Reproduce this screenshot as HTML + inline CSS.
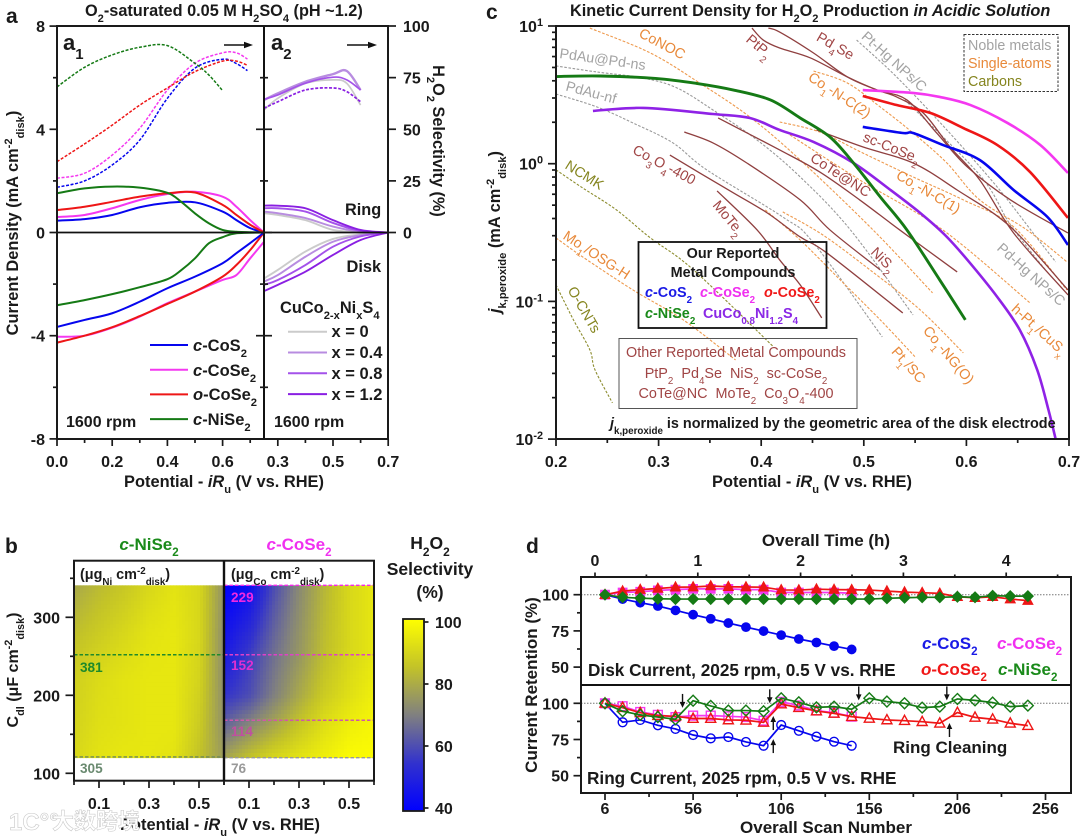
<!DOCTYPE html>
<html lang="en">
<head>
<meta charset="utf-8">
<title>H2O2 electrocatalyst figure</title>
<style>
html,body{margin:0;padding:0;background:#fff;width:1080px;height:840px;overflow:hidden}
svg{display:block;filter:blur(.35px)}
text{font-family:"Liberation Sans","Noto Sans CJK SC",sans-serif;font-weight:700;fill:#1a1a1a}
.i{font-style:italic}
.s{font-size:68%;baseline-shift:sub}
.u{font-size:68%;baseline-shift:super}
.lb{font-size:14.3px;font-weight:400}
.br{fill:#a04545}.or{fill:#e8893a}.gy{fill:#a3a3a3}.ol{fill:#85851f}
</style>
</head>
<body>
<svg id="fig" xmlns="http://www.w3.org/2000/svg" width="1080" height="840" viewBox="0 0 1080 840">
<defs>
<linearGradient id="cbar" x1="0" y1="1" x2="0" y2="0"></linearGradient>
</defs>
<g id="marks"></g>

<!-- panel a text -->
<text x="6" y="23" font-size="21">a</text>
<text x="85" y="16" font-size="16.3">O<tspan class="s">2</tspan>-saturated 0.05 M H<tspan class="s">2</tspan>SO<tspan class="s">4</tspan> (pH ~1.2)</text>
<text x="63" y="50" font-size="22">a<tspan class="s">1</tspan></text>
<text x="271" y="50" font-size="22">a<tspan class="s">2</tspan></text>
<text transform="translate(18,223) rotate(-90)" text-anchor="middle" font-size="16.4">Current Density (mA cm<tspan class="u">-2</tspan><tspan class="s">disk</tspan>)</text>
<text transform="translate(433,141) rotate(90)" text-anchor="middle" font-size="16.3">H<tspan class="s">2</tspan>O<tspan class="s">2</tspan> Selectivity (%)</text>
<text x="224" y="487" text-anchor="middle" font-size="16.4">Potential - <tspan class="i">iR</tspan><tspan class="s">u</tspan> (V vs. RHE)</text>
<text x="193" y="351" font-size="16.5"><tspan class="i">c</tspan>-CoS<tspan class="s">2</tspan></text>
<text x="193" y="376" font-size="16.5"><tspan class="i">c</tspan>-CoSe<tspan class="s">2</tspan></text>
<text x="193" y="400" font-size="16.5"><tspan class="i">o</tspan>-CoSe<tspan class="s">2</tspan></text>
<text x="193" y="425" font-size="16.5"><tspan class="i">c</tspan>-NiSe<tspan class="s">2</tspan></text>
<text x="66" y="427" font-size="16">1600 rpm</text>
<text x="274" y="427" font-size="16">1600 rpm</text>
<text x="345" y="215" font-size="16.3">Ring</text>
<text x="346.5" y="272" font-size="16.4">Disk</text>
<text x="280" y="313" font-size="16.4">CuCo<tspan class="s">2-x</tspan>Ni<tspan class="s">x</tspan>S<tspan class="s">4</tspan></text>
<text x="331.5" y="337" font-size="16.5">x = 0</text>
<text x="331.5" y="358" font-size="16.5">x = 0.4</text>
<text x="331.5" y="379" font-size="16.5">x = 0.8</text>
<text x="331.5" y="400" font-size="16.5">x = 1.2</text>

<!-- panel c text -->
<text x="486" y="19" font-size="21">c</text>
<text x="570" y="16" font-size="16.3">Kinetic Current Density for H<tspan class="s">2</tspan>O<tspan class="s">2</tspan> Production <tspan class="i">in Acidic Solution</tspan></text>
<text transform="translate(500,232) rotate(-90)" text-anchor="middle" font-size="16.4"><tspan class="i">j</tspan><tspan class="s">k,peroxide</tspan> (mA cm<tspan class="u">-2</tspan><tspan class="s">disk</tspan>)</text>
<text x="812" y="487" text-anchor="middle" font-size="16.4">Potential - <tspan class="i">iR</tspan><tspan class="s">u</tspan> (V vs. RHE)</text>
<g>
<text class="lb or" transform="translate(660,48) rotate(28)" text-anchor="middle">CoNOC</text>
<text class="lb br" transform="translate(756,50) rotate(40)" text-anchor="middle">PtP<tspan class="s">2</tspan></text>
<text class="lb br" transform="translate(833,50) rotate(30)" text-anchor="middle">Pd<tspan class="s">4</tspan>Se</text>
<text class="lb gy" transform="translate(602,64) rotate(8)" text-anchor="middle">PdAu@Pd-ns</text>
<text class="lb gy" transform="translate(590,97) rotate(15)" text-anchor="middle">PdAu-nf</text>
<text class="lb ol" transform="translate(582,179) rotate(32)" text-anchor="middle">NCMK</text>
<text class="lb br" transform="translate(662,169) rotate(28)" text-anchor="middle">Co<tspan class="s">3</tspan>O<tspan class="s">4</tspan>-400</text>
<text class="lb br" transform="translate(725,221) rotate(50)" text-anchor="middle">MoTe<tspan class="s">2</tspan></text>
<text class="lb gy" transform="translate(891,65) rotate(42)" text-anchor="middle">Pt-Hg NPs/C</text>
<text class="lb or" transform="translate(837,99) rotate(33)" text-anchor="middle">Co<tspan class="s">1</tspan>-N-C(2)</text>
<text class="lb br" transform="translate(890,152) rotate(22)" text-anchor="middle">sc-CoSe<tspan class="s">2</tspan></text>
<text class="lb br" transform="translate(838,179) rotate(33)" text-anchor="middle">CoTe@NC</text>
<text class="lb or" transform="translate(926,196) rotate(30)" text-anchor="middle">Co<tspan class="s">1</tspan>-N-C(1)</text>
<text class="lb br" transform="translate(880,263) rotate(45)" text-anchor="middle">NiS<tspan class="s">2</tspan></text>
<text class="lb gy" transform="translate(1028,278) rotate(42)" text-anchor="middle">Pd-Hg NPs/C</text>
<text class="lb or" transform="translate(1036,333) rotate(42)" text-anchor="middle">h-Pt<tspan class="s">1</tspan>/CuS<tspan class="s">x</tspan></text>
<text class="lb or" transform="translate(945,358) rotate(50)" text-anchor="middle">Co<tspan class="s">1</tspan>-NG(O)</text>
<text class="lb or" transform="translate(905,368) rotate(48)" text-anchor="middle">Pt<tspan class="s">1</tspan>/SC</text>
<text class="lb or" transform="translate(594,259) rotate(33)" text-anchor="middle">Mo<tspan class="s">1</tspan>/OSG-H</text>
<text class="lb ol" transform="translate(580,312) rotate(60)" text-anchor="middle">O-CNTs</text>
</g>
<rect x="964" y="34.5" width="94" height="57" fill="none" stroke="#333" stroke-width="1" stroke-dasharray="2.5 1.5"/>
<text class="lb gy" x="968" y="50">Noble metals</text>
<text class="lb or" x="968" y="68">Single-atoms</text>
<text class="lb ol" x="968" y="86">Carbons</text>
<rect x="638.5" y="242" width="188" height="86" fill="none" stroke="#111" stroke-width="1.8"/>
<text x="733" y="258" text-anchor="middle" font-size="14.4">Our Reported</text>
<text x="733" y="277" text-anchor="middle" font-size="14.4">Metal Compounds</text>
<text x="645" y="297" font-size="14.4" style="fill:#1a1ae6"><tspan class="i">c</tspan>-CoS<tspan class="s">2</tspan></text>
<text x="700" y="297" font-size="14.4" style="fill:#f030f0"><tspan class="i">c</tspan>-CoSe<tspan class="s">2</tspan></text>
<text x="764" y="297" font-size="14.4" style="fill:#f01818"><tspan class="i">o</tspan>-CoSe<tspan class="s">2</tspan></text>
<text x="645" y="318" font-size="14.4" style="fill:#1a8a1a"><tspan class="i">c</tspan>-NiSe<tspan class="s">2</tspan></text>
<text x="703" y="318" font-size="14.4" style="fill:#8a28e6">CuCo<tspan class="s">0.8</tspan>Ni<tspan class="s">1.2</tspan>S<tspan class="s">4</tspan></text>
<rect x="619" y="338.5" width="238" height="70" fill="none" stroke="#555" stroke-width="1"/>
<text class="br" x="736" y="357" text-anchor="middle" font-size="14.4" style="font-weight:400">Other Reported Metal Compounds</text>
<text class="br" x="736" y="378" text-anchor="middle" font-size="14.4" xml:space="preserve" style="font-weight:400">PtP<tspan class="s">2</tspan>  Pd<tspan class="s">4</tspan>Se  NiS<tspan class="s">2</tspan>  sc-CoSe<tspan class="s">2</tspan></text>
<text class="br" x="736" y="398" text-anchor="middle" font-size="14.4" xml:space="preserve" style="font-weight:400">CoTe@NC  MoTe<tspan class="s">2</tspan>  Co<tspan class="s">3</tspan>O<tspan class="s">4</tspan>-400</text>
<text x="610" y="428" font-size="14.4"><tspan class="i">j</tspan><tspan class="s">k,peroxide</tspan> is normalized by the geometric area of the disk electrode</text>

<!-- panel b text -->
<text x="5" y="553" font-size="21">b</text>
<text x="149" y="550" text-anchor="middle" font-size="17" style="fill:#1a8a1a"><tspan class="i">c</tspan>-NiSe<tspan class="s">2</tspan></text>
<text x="299" y="550" text-anchor="middle" font-size="17" style="fill:#f030f0"><tspan class="i">c</tspan>-CoSe<tspan class="s">2</tspan></text>
<text x="80" y="579" font-size="14.4">(μg<tspan class="s">Ni</tspan> cm<tspan class="u">-2</tspan><tspan class="s">disk</tspan>)</text>
<text x="231" y="579" font-size="14.4">(μg<tspan class="s">Co</tspan> cm<tspan class="u">-2</tspan><tspan class="s">disk</tspan>)</text>
<text x="430" y="549" text-anchor="middle" font-size="17.5">H<tspan class="s">2</tspan>O<tspan class="s">2</tspan></text>
<text x="430" y="575" text-anchor="middle" font-size="17.5">Selectivity</text>
<text x="430" y="598" text-anchor="middle" font-size="17.5">(%)</text>
<text transform="translate(18,670) rotate(-90)" text-anchor="middle" font-size="16">C<tspan class="s">dl</tspan> (μF cm<tspan class="u">-2</tspan><tspan class="s">disk</tspan>)</text>
<text x="220" y="830" text-anchor="middle" font-size="16.4">Potential - <tspan class="i">iR</tspan><tspan class="s">u</tspan> (V vs. RHE)</text>
<text x="80" y="672" font-size="13.6" style="fill:#1e8a2a">381</text>
<text x="80" y="773" font-size="13.6" style="fill:#6a8a70">305</text>
<text x="231" y="602" font-size="13.6" style="fill:#f028e0">229</text>
<text x="231" y="670" font-size="13.6" style="fill:#e030d0">152</text>
<text x="231" y="736" font-size="13.6" style="fill:#c050a0">114</text>
<text x="231" y="773" font-size="13.6" style="fill:#999">76</text>

<!-- panel d text -->
<text x="526" y="553" font-size="21">d</text>
<text x="826" y="546" text-anchor="middle" font-size="17">Overall Time (h)</text>
<text x="826" y="833" text-anchor="middle" font-size="17">Overall Scan Number</text>
<text transform="translate(537,685) rotate(-90)" text-anchor="middle" font-size="17">Current Retention (%)</text>
<text x="588" y="676" font-size="17.2">Disk Current, 2025 rpm, 0.5 V vs. RHE</text>
<text x="587" y="784" font-size="17.2">Ring Current, 2025 rpm, 0.5 V vs. RHE</text>
<text x="893" y="753" font-size="17">Ring Cleaning</text>
<text x="922" y="649" font-size="17" style="fill:#1a1ae6"><tspan class="i">c</tspan>-CoS<tspan class="s">2</tspan></text>
<text x="997" y="649" font-size="17" style="fill:#f030f0"><tspan class="i">c</tspan>-CoSe<tspan class="s">2</tspan></text>
<text x="921" y="675" font-size="17" style="fill:#f01818"><tspan class="i">o</tspan>-CoSe<tspan class="s">2</tspan></text>
<text x="998" y="675" font-size="17" style="fill:#1a8a1a"><tspan class="i">c</tspan>-NiSe<tspan class="s">2</tspan></text>

<!-- watermark -->
<text x="9" y="830" font-size="24" style="fill:#fff;stroke:#c8c8c8;stroke-width:.6">1C°°</text>
<text x="52" y="829" font-size="22" style="fill:#fff;stroke:#c4c4c4;stroke-width:.5;font-family:'Liberation Sans','Noto Sans CJK SC',sans-serif">大数跨境</text>
</svg>

<script>
/* ---------- panel a data: RDE currents (mA/cm2) and selectivity (%) ---------- */
const a1Pot = [0, .1, .2, .3, .4, .5, .6, .65, .7, .75];
const a1RingCoS2 = [.46, .52, .68, .98, 1.15, 1.17, .81, .48, .17, 0];
const a1RingCoSe2 = [.6, .68, .94, 1.26, 1.49, 1.58, 1.39, 1.0, .48, 0];
const a1RingOCoSe2 = [.87, 1.0, 1.19, 1.39, 1.52, 1.55, 1.07, .68, .3, 0];
const a1RingNiPot = [0, .1, .2, .3, .4, .45, .5, .55, .6, .65, .75];
const a1RingNiSe2 = [1.52, 1.71, 1.78, 1.74, 1.54, 1.19, .74, .36, .1, .03, 0];
const a1DiskCoS2 = [-3.66, -3.39, -3.13, -2.68, -2.16, -1.71, -1.19, -.8, -.41, 0];
const a1DiskCoSe2 = [-4.04, -4.0, -3.69, -3.26, -2.74, -2.29, -1.84, -1.65, -1.0, -.36];
const a1DiskOCoSe2 = [-4.27, -4.0, -3.67, -3.24, -2.77, -2.29, -1.71, -1.26, -.68, 0];
const a1DiskNiPot = [0, .1, .2, .3, .4, .45, .5, .55, .6, .65, .75];
const a1DiskNiSe2 = [-2.82, -2.62, -2.39, -2.12, -1.81, -1.46, -1.0, -.42, -.18, -.03, 0];
const a1SelPot = [0, .1, .2, .3, .4, .5, .6, .65, .69];
const a1SelCoS2 = [21.9, 25, 32.7, 44.8, 65, 79.6, 83.9, 81.8, 78.4];
const a1SelCoSe2 = [26.3, 28.7, 37.5, 50.5, 69, 82, 87, 87, 84];
const a1SelOCoSe2 = [34.3, 42.9, 52, 61.7, 70, 77.9, 83, 83, 81];
const a1SelNiPot = [0, .1, .2, .3, .4, .5, .55, .6];
const a1SelNiSe2 = [70.5, 80, 86, 89.7, 90.5, 81.9, 76.3, 68.7];

const a2Pot = [.25, .3, .4, .5, .6, .7];
const a2RingX0 = [.75, .68, .48, .1, .02, 0];
const a2RingX04 = [.81, .75, .56, .23, .03, 0];
const a2RingX08 = [.94, .94, .81, .37, .06, 0];
const a2RingX12 = [1.04, 1.04, .94, .48, .1, 0];
const a2DiskX0 = [-1.78, -1.45, -.74, -.25, -.07, 0];
const a2DiskX04 = [-1.9, -1.65, -.94, -.36, -.1, 0];
const a2DiskX08 = [-2.03, -1.84, -1.26, -.55, -.15, 0];
const a2DiskX12 = [-2.27, -2.03, -1.52, -.87, -.29, 0];
const a2SelPot = [.25, .3, .4, .5, .55, .6];
const a2SelX0 = [59.3, 65, 72.2, 73.9, 72.2, 61.7];
const a2SelX04 = [64.2, 67.4, 73, 76.7, 78.2, 69];
const a2SelX08 = [64.5, 66.6, 72.3, 75.2, 73.9, 69];
const a2SelX12 = [60.2, 63.3, 69, 70, 68.2, 63.3];

const aLeftMajor = [8, 4, 0, -4, -8];
const aLeftMinor = [6, 2, -2, -6];
const aRightTicks = [100, 75, 50, 25, 0];
const a1XMajor = [0, .2, .4, .6];
const a1XMinor = [.1, .3, .5, .7];
const a2XMajor = [.3, .5, .7];
const a2XMinor = [.4, .6];

/* ---------- panel c data: [potential V, log10(j)] ---------- */
const kNiSe2 = [[.2,.633],[.243,.637],[.297,.619],[.337,.583],[.373,.535],[.409,.463],[.438,.332],[.467,.194],[.49,.005],[.516,-.241],[.542,-.481],[.574,-.844],[.599,-1.134]];
const kCuCoNiS = [[.236,.383],[.285,.405],[.353,.361],[.389,.332],[.418,.245],[.451,.158],[.49,.005],[.526,-.191],[.555,-.358],[.579,-.517],[.601,-.699],[.63,-.967],[.652,-1.207],[.669,-1.497],[.68,-1.788],[.687,-2]];
const kCoSe2 = [[.499,.535],[.548,.514],[.574,.485],[.604,.426],[.64,.296],[.672,.136],[.699,-.067]];
const kOCoSe2 = [[.499,.492],[.532,.426],[.565,.368],[.597,.259],[.63,.136],[.662,-.06],[.699,-.394]];
const kCoS2 = [[.499,.267],[.538,.223],[.548,.223],[.577,.136],[.613,.027],[.646,-.191],[.679,-.387],[.699,-.59]];
const kPtP2 = [[.391,.985],[.402,.898],[.418,.84],[.448,.768],[.484,.63],[.513,.535],[.542,.463],[.571,.223],[.601,-.024],[.643,-.263],[.699,-.503]];
const kPd4Se = [[.407,.985],[.418,.956],[.451,.804],[.484,.63],[.513,.535],[.532,.485],[.558,.368],[.584,.122],[.613,-.118],[.646,-.503],[.699,-.953]];
const kScCoSe2 = [[.454,.245],[.499,.122],[.548,.005],[.591,-.191],[.643,-.459],[.699,-.917]];
const kCoTe = [[.358,.332],[.418,.1],[.457,-.06],[.496,-.263],[.535,-.481],[.591,-.786]];
const kCo3O4 = [[.311,.063],[.34,-.067],[.373,-.212],[.406,-.358],[.438,-.532],[.464,-.648],[.538,-1.084]];
const kNiS2 = [[.325,.23],[.353,.151],[.386,.005],[.438,-.263],[.467,-.481],[.516,-.771]];
const kMoTe2 = [[.357,-.198],[.396,-.481],[.418,-.699],[.438,-.88],[.459,-1.12]];
const kPdAuPd = [[.2,.71],[.24,.666],[.285,.622],[.318,.55],[.353,.39],[.396,.172],[.438,-.096],[.487,-.481],[.548,-1.098]];
const kPdAuNf = [[.2,.506],[.24,.412],[.275,.296],[.314,.151],[.347,-.045],[.421,-.387],[.451,-.575],[.518,-1.258]];
const kPtHg = [[.493,.898],[.532,.63],[.581,.245],[.63,-.169],[.665,-.503],[.687,-.713]];
const kPdHg = [[.54,.463],[.613,-.082],[.643,-.445],[.677,-.771]];
const kCoNOC = [[.233,.985],[.292,.804],[.34,.586],[.389,.339],[.438,.027],[.509,-.481],[.567,-.938]];
const kCo1NC2 = [[.451,.673],[.484,.586],[.516,.412],[.548,.223],[.581,.005],[.613,-.263],[.659,-.481],[.698,-.713]];
const kCo1NC1 = [[.418,.303],[.457,.23],[.499,.078],[.548,-.096],[.597,-.263],[.646,-.459],[.698,-.917]];
const kHPt = [[.428,.209],[.496,-.118],[.577,-.481],[.662,-1.011]];
const kCo1NGO = [[.421,-.35],[.46,-.517],[.506,-.771],[.555,-1.062],[.597,-1.374]];
const kPt1SC = [[.404,-.336],[.438,-.554],[.477,-.844],[.516,-1.134],[.55,-1.403]];
const kMo1 = [[.2,-.539],[.226,-.677],[.275,-.917],[.324,-1.134],[.375,-1.425]];
const kNCMK = [[.2,-.045],[.226,-.176],[.259,-.336],[.292,-.539],[.334,-.771],[.412,-1.33]];
const kOCNT = [[.2,-.88],[.217,-1.134],[.233,-1.352],[.238,-1.497],[.255,-1.737]];
const cXMajor = [.2, .3, .4, .5, .6, .7];
const cXMinor = [.25, .35, .45, .55, .65];
const cDecades = [1, 0, -1, -2];
const cMinorFactors = [2, 3, 4, 5, 6, 7, 8, 9];

/* ---------- panel b data: selectivity grids ---------- */
const bPot = [0, .1, .2, .3, .4, .5, .6];
const bCdlNi = [341, 280, 220, 160, 120];
const bNi341 = [79, 83, 86, 90, 93, 90, 74];
const bNi280 = [84, 87, 90, 93, 94, 90, 73];
const bNi220 = [88, 91, 93, 94, 94, 89, 73];
const bNi160 = [89, 92, 93, 94, 94, 87, 74];
const bNi120 = [90, 93, 94, 94, 93, 85, 76];
const bCdlCo = [341, 250, 200, 160, 120];
const bCo341 = [40, 44, 60, 72, 82, 90, 94];
const bCo250 = [48, 57, 67, 75, 84, 90, 94];
const bCo200 = [55, 60, 70, 79, 87, 92, 96];
const bCo160 = [65, 72, 79, 86, 92, 96, 98];
const bCo120 = [78, 85, 90, 93, 96, 99, 99];
const bNiLoadingCdl = [252, 121];
const bCoLoadingCdl = [341, 252, 168, 120];
const bYMajor = [300, 200, 100];
const bYMinor = [350, 250, 150];
const bXMajor = [.1, .3, .5];
const bXMinor = [0, .2, .4, .6];
const colorbarTicks = [100, 80, 60, 40];
const colorStopValues = [40, 55, 70, 85, 100];
const colorStopRed = [0, 50, 128, 195, 255];
const colorStopBlue = [255, 205, 128, 40, 0];

/* ---------- panel d data ---------- */
const dScans = [6,16,26,36,46,56,66,76,86,96,106,116,126,136,146,156,166,176,186,196,206,216,226,236,246];
const diskCoS2 = [100,97,94.5,92.2,89.2,86.2,83.4,80.4,77.6,74.9,72.1,69.4,67,64.5,62.2];
const diskCoSe2 = [100,101.5,102,103,103.5,104,104,104,103.5,103.5,101.5,101.5,101.5,101.5,101];
const diskOCoSe2 = [100,102.5,103.5,104.3,105.2,105.3,106,105.5,105.3,105.2,103.3,103.2,103.8,103.5,103.4,103.2,102.5,101.8,101.4,100.9,98.6,97.9,98.6,97,95.9];
const diskNiSe2 = [100,98.2,97.6,97.2,97,97,97,97,97,97,97,97,97,97,97,97,97.5,97.9,98.2,98.2,98.6,98.2,99.3,99,99];
const ringCoS2 = [100,86.9,88.5,84.8,82.3,78.1,75.8,76.7,73.3,70.7,85,81,77,73.5,70.7];
const ringCoSe2 = [100,98,94,92,90.5,91.5,91.5,91,90.5,88,101,98.5,95,93.5,90.8];
const ringOCoSe2 = [100,97,93.5,91.5,91,89.5,89.5,88.5,88.3,86.8,99.5,97,94.7,93,90.8,89.6,88.5,88,87.3,86.2,93.6,90.3,89,86.2,84.6];
const ringNiSe2 = [100,94.5,92,90.5,89,101.8,98.2,95,95,94.5,103.5,100.7,97.2,97.7,95.9,103.5,101.2,100,97,97.7,103,102,100.5,97.7,98.4];
const dYMajor = [100, 75, 50];
const dYMinor = [87.5, 62.5];
const dScanMajor = [6, 56, 106, 156, 206, 256];
const dScanMinor = [31, 81, 131, 181, 231];
const dTimeMajor = [0, 1, 2, 3, 4];
const dTimeMinor = [.5, 1.5, 2.5, 3.5, 4.5];
const cleanDownScans = [50, 99.5, 150, 200];
const cleanDownTips = [96.8, 100, 102, 102];
const cleanUpScans = [101.5, 101.5, 201.5];
const cleanUpTips = [91.2, 75.3, 86.4];

/* ---------- colours ---------- */
const BLUE = '#0606ee', MAG = '#f438f0', RED = '#ee1616', GRN = '#157a15';
const PUR = ['#cbcbcb', '#b88ce0', '#a452ea', '#8a1fe2'];
const BRN = '#8f3f3f', ORG = '#ee9a4e', GRY = '#9a9a9a', OLV = '#8c8c2e';

/* ---------- axis functions ---------- */
const aX = p => 57 + p * 276;
const a2X = p => 264 + (p - .25) * 276;
const aY = v => 232.5 - v * 25.8;
const aS = s => 232.5 - s * 2.065;
const cX = p => 556 + (p - .2) * 1026;
const cY = l => 26 + (1 - l) * 137.7;
const bXL = p => 74 + p * 250;
const bXR = p => 224 + p * 250;
const bY = c => 617.3 + (300 - c) * .78;
const cbY = s => 622 + (100 - s) * 3.1;
const dX = s => 605 + (s - 6) * 1.762;
const dT = h => 595 + h * 102.8;
const dDisk = r => 594.7 + (100 - r) * 1.448;
const dRing = r => 703.3 + (100 - r) * 1.448;

/* ---------- drawing helpers ---------- */
const NS = 'http://www.w3.org/2000/svg';
const root = document.getElementById('marks');
function make(tag, attrs, name, parent) {
  const el = document.createElementNS(NS, tag);
  for (const k in attrs) el.setAttribute(k, attrs[k]);
  
  
  (parent || root).appendChild(el);
  return el;
}
function smooth(pts) {
  let d = 'M' + pts[0][0].toFixed(2) + ' ' + pts[0][1].toFixed(2);
  for (let i = 0; i < pts.length - 1; i++) {
    const p0 = pts[Math.max(i - 1, 0)], p1 = pts[i], p2 = pts[i + 1], p3 = pts[Math.min(i + 2, pts.length - 1)];
    const c1x = p1[0] + (p2[0] - p0[0]) / 6, c1y = p1[1] + (p2[1] - p0[1]) / 6;
    const c2x = p2[0] - (p3[0] - p1[0]) / 6, c2y = p2[1] - (p3[1] - p1[1]) / 6;
    d += 'C' + c1x.toFixed(2) + ' ' + c1y.toFixed(2) + ' ' + c2x.toFixed(2) + ' ' + c2y.toFixed(2) + ' ' + p2[0].toFixed(2) + ' ' + p2[1].toFixed(2);
  }
  return d;
}
function curve(xs, ys, fx, fy, color, w, dash, name) {
  const pts = xs.map((x, i) => [fx(x), fy(ys[i])]);
  const attrs = { d: smooth(pts), fill: 'none', stroke: color, 'stroke-width': w };
  if (dash) attrs['stroke-dasharray'] = dash;
  return make('path', attrs, name);
}
function kCurve(pairs, color, w, dash, name) {
  return curve(pairs.map(q => q[0]), pairs.map(q => q[1]), cX, cY, color, w, dash, name);
}
function tick(x1, y1, x2, y2, name) {
  make('line', { x1, y1, x2, y2, stroke: '#1a1a1a', 'stroke-width': 1.7 }, name);
}
function label(x, y, str, anchor, size, name) {
  const el = make('text', { x, y, 'text-anchor': anchor, 'font-size': size }, name);
  el.textContent = str;
  return el;
}
function frame(x, y, w, h, name) {
  make('rect', { x, y, width: w, height: h, fill: 'none', stroke: '#1a1a1a', 'stroke-width': 2 }, name);
}
function arrowH(x1, x2, y, name) {
  make('line', { x1, y1: y, x2: x2 - 6, y2: y, stroke: '#111', 'stroke-width': 1.6 }, name);
  make('polygon', { points: (x2 - 9) + ',' + (y - 3.2) + ' ' + x2 + ',' + y + ' ' + (x2 - 9) + ',' + (y + 3.2), fill: '#111' }, name + '-head');
}
function arrowV(x, tip, dir, name) {
  const tail = tip - dir * 14;
  make('line', { x1: x, y1: tail, x2: x, y2: tip - dir * 4, stroke: '#111', 'stroke-width': 1.4 }, name);
  make('polygon', { points: (x - 2.8) + ',' + (tip - dir * 6) + ' ' + x + ',' + tip + ' ' + (x + 2.8) + ',' + (tip - dir * 6), fill: '#111' }, name + '-head');
}

/* ---------- panel b heatmaps (drawn first, below frames) ---------- */
function heatColor(s) {
  let i = 0;
  while (i < colorStopValues.length - 2 && s > colorStopValues[i + 1]) i++;
  const t = Math.min(1, Math.max(0, (s - colorStopValues[i]) / (colorStopValues[i + 1] - colorStopValues[i])));
  const r = Math.round(colorStopRed[i] + (colorStopRed[i + 1] - colorStopRed[i]) * t);
  const b = Math.round(colorStopBlue[i] + (colorStopBlue[i + 1] - colorStopBlue[i]) * t);
  return 'rgb(' + r + ',' + r + ',' + b + ')';
}
function bilinear(rowsC, grid, c, p) {
  let r = 0;
  while (r < rowsC.length - 2 && c < rowsC[r + 1]) r++;
  const tr = Math.min(1, Math.max(0, (rowsC[r] - c) / (rowsC[r] - rowsC[r + 1])));
  let k = 0;
  while (k < bPot.length - 2 && p > bPot[k + 1]) k++;
  const tk = Math.min(1, Math.max(0, (p - bPot[k]) / (bPot[k + 1] - bPot[k])));
  const top = grid[r][k] + (grid[r][k + 1] - grid[r][k]) * tk;
  const bot = grid[r + 1][k] + (grid[r + 1][k + 1] - grid[r + 1][k]) * tk;
  return top + (bot - top) * tr;
}
function heatmap(rowsC, grid, fx, name) {
  const g = make('g', {}, name);
  const dp = .012, dc = 5;
  for (let c = rowsC[0]; c > rowsC[rowsC.length - 1]; c -= dc) {
    const cEnd = Math.max(c - dc, rowsC[rowsC.length - 1]);
    for (let p = 0; p < .6 - 1e-6; p += dp) {
      const val = bilinear(rowsC, grid, c - dc / 2, p + dp / 2);
      const rect = document.createElementNS(NS, 'rect');
      rect.setAttribute('x', fx(p).toFixed(2));
      rect.setAttribute('y', bY(c).toFixed(2));
      rect.setAttribute('width', (fx(p + dp) - fx(p) + .4).toFixed(2));
      rect.setAttribute('height', (bY(cEnd) - bY(c) + .4).toFixed(2));
      rect.setAttribute('fill', heatColor(val));
      
      
      g.appendChild(rect);
    }
  }
}
heatmap(bCdlNi, [bNi341, bNi280, bNi220, bNi160, bNi120], bXL, 'heatmap-nise2');
heatmap(bCdlCo, [bCo341, bCo250, bCo200, bCo160, bCo120], bXR, 'heatmap-cose2');
bNiLoadingCdl.forEach((c, i) => {
  make('line', { x1: bXL(0), x2: bXL(.6), y1: bY(c), y2: bY(c), stroke: i ? '#6e8a5a' : '#1f8a2a', 'stroke-width': 1.4, 'stroke-dasharray': '3.5 2' }, 'nise2-loading-line');
});
const coDashColors = ['#f428e8', '#e040c8', '#d058a8', '#999999'];
bCoLoadingCdl.forEach((c, i) => {
  make('line', { x1: bXR(0), x2: bXR(.6), y1: bY(c), y2: bY(c), stroke: coDashColors[i], 'stroke-width': 1.4, 'stroke-dasharray': '3.5 2' }, 'cose2-loading-line');
});
frame(74, 560.7, 300, 220, 'b-frame');
make('line', { x1: 224, x2: 224, y1: 560.7, y2: 780.7, stroke: '#111', 'stroke-width': 2.4 }, 'b-divider');
bYMajor.forEach(v => { tick(74, bY(v), 65.5, bY(v), 'b-y-tick'); label(60, bY(v) + 6, String(v), 'end', 16, 'b-y-tick-label'); });
bYMinor.forEach(v => tick(74, bY(v), 70, bY(v), 'b-y-minor-tick'));
[bXL, bXR].forEach(fx => {
  bXMajor.forEach(p => { tick(fx(p), 780.7, fx(p), 788, 'b-x-tick'); label(fx(p), 809, p.toFixed(1), 'middle', 16, 'b-x-tick-label'); });
  bXMinor.forEach(p => tick(fx(p), 780.7, fx(p), 785, 'b-x-minor-tick'));
});
/* colour bar */
const cbarGrad = document.getElementById('cbar');
colorStopValues.forEach(s => {
  const st = document.createElementNS(NS, 'stop');
  st.setAttribute('offset', ((s - 40) / 60).toFixed(3));
  st.setAttribute('stop-color', heatColor(s));
  cbarGrad.appendChild(st);
});
make('rect', { x: 403, y: cbY(100) - 3, width: 21, height: cbY(40) - cbY(100) + 6, fill: 'url(#cbar)', stroke: '#1a1a1a', 'stroke-width': 1.8 }, 'colorbar');
colorbarTicks.forEach(s => {
  tick(424, cbY(s), 428.5, cbY(s), 'colorbar-tick');
  label(435, cbY(s) + 6, String(s), 'start', 16, 'colorbar-tick-label');
});

/* ---------- panel a ---------- */
curve(a1SelPot, a1SelCoS2, aX, aS, BLUE, 1.5, '3 1.6', 'a1-selectivity-cos2');
curve(a1SelPot, a1SelCoSe2, aX, aS, MAG, 1.5, '3 1.6', 'a1-selectivity-cose2');
curve(a1SelPot, a1SelOCoSe2, aX, aS, RED, 1.5, '3 1.6', 'a1-selectivity-ocose2');
curve(a1SelNiPot, a1SelNiSe2, aX, aS, GRN, 1.5, '3 1.6', 'a1-selectivity-nise2');
curve(a1Pot, a1RingCoS2, aX, aY, BLUE, 2, null, 'a1-ring-cos2');
curve(a1Pot, a1RingCoSe2, aX, aY, MAG, 2, null, 'a1-ring-cose2');
curve(a1Pot, a1RingOCoSe2, aX, aY, RED, 2, null, 'a1-ring-ocose2');
curve(a1RingNiPot, a1RingNiSe2, aX, aY, GRN, 2, null, 'a1-ring-nise2');
curve(a1Pot, a1DiskCoSe2, aX, aY, MAG, 2, null, 'a1-disk-cose2');
curve(a1Pot, a1DiskOCoSe2, aX, aY, RED, 2, null, 'a1-disk-ocose2');
curve(a1Pot, a1DiskCoS2, aX, aY, BLUE, 2, null, 'a1-disk-cos2');
curve(a1DiskNiPot, a1DiskNiSe2, aX, aY, GRN, 2, null, 'a1-disk-nise2');

const a2Ring = [a2RingX0, a2RingX04, a2RingX08, a2RingX12];
const a2Disk = [a2DiskX0, a2DiskX04, a2DiskX08, a2DiskX12];
const a2Sel = [a2SelX0, a2SelX04, a2SelX08, a2SelX12];
PUR.forEach((col, i) => {
  curve(a2SelPot, a2Sel[i], a2X, aS, col, i === 1 ? 2.4 : 1.7, i === 3 ? '3 1.6' : null, 'a2-selectivity-series');
  curve(a2Pot, a2Ring[i], a2X, aY, col, 1.9, null, 'a2-ring-series');
  curve(a2Pot, a2Disk[i], a2X, aY, col, 1.9, null, 'a2-disk-series');
});
make('line', { x1: 57, x2: 388, y1: aY(0), y2: aY(0), stroke: '#111', 'stroke-width': 1.7 }, 'a-zero-line');
frame(57, 26, 331, 413, 'a-frame');
make('line', { x1: 264, x2: 264, y1: 26, y2: 439, stroke: '#111', 'stroke-width': 2 }, 'a-divider');
aLeftMajor.forEach(v => {
  tick(49.5, aY(v), 57, aY(v), 'a-y-tick');
  tick(256, aY(v), 272, aY(v), 'a-divider-tick');
  label(45, aY(v) + 6, String(v), 'end', 16, 'a-y-tick-label');
});
aLeftMinor.forEach(v => {
  tick(53, aY(v), 57, aY(v), 'a-y-minor-tick');
  tick(260, aY(v), 268, aY(v), 'a-divider-minor-tick');
});
aRightTicks.forEach(s => {
  tick(388, aS(s), 396, aS(s), 'a-right-tick');
  label(403, aS(s) + 6, String(s), 'start', 16, 'a-right-tick-label');
});
a1XMajor.forEach(p => { tick(aX(p), 439, aX(p), 446, 'a-x-tick'); label(aX(p), 467, p.toFixed(1), 'middle', 16, 'a-x-tick-label'); });
a1XMinor.forEach(p => tick(aX(p), 439, aX(p), 443, 'a-x-minor-tick'));
a2XMajor.forEach(p => { tick(a2X(p), 439, a2X(p), 446, 'a2-x-tick'); label(a2X(p), 467, p.toFixed(1), 'middle', 16, 'a2-x-tick-label'); });
a2XMinor.forEach(p => tick(a2X(p), 439, a2X(p), 443, 'a2-x-minor-tick'));
arrowH(224, 253, 45, 'a1-scan-arrow');
arrowH(347, 377, 45, 'a2-scan-arrow');
/* panel a legends */
const a1LegendColors = [BLUE, MAG, RED, GRN];
const a1LegendNames = ['cos2', 'cose2', 'ocose2', 'nise2'];
a1LegendColors.forEach((col, i) => {
  make('line', { x1: 150, x2: 188, y1: 345 + i * 24.7, y2: 345 + i * 24.7, stroke: col, 'stroke-width': 2 }, 'a1-legend-line-' + a1LegendNames[i]);
});
PUR.forEach((col, i) => {
  make('line', { x1: 288, x2: 327, y1: 331.7 + i * 20.8, y2: 331.7 + i * 20.8, stroke: col, 'stroke-width': 2 }, 'a2-legend-line');
});

/* ---------- panel c ---------- */
kCurve(kPdAuPd, GRY, 1.1, '2.6 1.6', 'curve-pdau-pd-ns');
kCurve(kPdAuNf, GRY, 1.1, '2.6 1.6', 'curve-pdau-nf');
kCurve(kPtHg, GRY, 1.1, '2.6 1.6', 'curve-pt-hg');
kCurve(kPdHg, GRY, 1.1, '2.6 1.6', 'curve-pd-hg');
kCurve(kCoNOC, ORG, 1.1, '2.8 1.6', 'curve-conoc');
kCurve(kCo1NC2, ORG, 1.1, '2.8 1.6', 'curve-co1-n-c2');
kCurve(kCo1NC1, ORG, 1.1, '2.8 1.6', 'curve-co1-n-c1');
kCurve(kHPt, ORG, 1.1, '2.8 1.6', 'curve-h-pt1-cusx');
kCurve(kCo1NGO, ORG, 1.1, '2.8 1.6', 'curve-co1-ng-o');
kCurve(kPt1SC, ORG, 1.1, '2.8 1.6', 'curve-pt1-sc');
kCurve(kMo1, ORG, 1.1, '2.8 1.6', 'curve-mo1-osg-h');
kCurve(kNCMK, OLV, 1.1, '2.6 1.6', 'curve-ncmk');
kCurve(kOCNT, OLV, 1.1, '2.6 1.6', 'curve-o-cnts');
kCurve(kPtP2, BRN, 1.3, null, 'curve-ptp2');
kCurve(kPd4Se, BRN, 1.3, null, 'curve-pd4se');
kCurve(kScCoSe2, BRN, 1.3, null, 'curve-sc-cose2');
kCurve(kCoTe, BRN, 1.3, null, 'curve-cote-nc');
kCurve(kCo3O4, BRN, 1.3, null, 'curve-co3o4-400');
kCurve(kNiS2, BRN, 1.3, null, 'curve-nis2');
kCurve(kMoTe2, BRN, 1.3, null, 'curve-mote2');
kCurve(kCuCoNiS, '#8f22e6', 2.6, null, 'curve-cuco08ni12s4');
kCurve(kNiSe2, GRN, 2.9, null, 'curve-c-nise2');
kCurve(kCoSe2, MAG, 2.6, null, 'curve-c-cose2');
kCurve(kOCoSe2, RED, 2.6, null, 'curve-o-cose2');
kCurve(kCoS2, BLUE, 2.6, null, 'curve-c-cos2');
frame(556, 26, 513, 413, 'c-frame');
cDecades.forEach(e => {
  tick(548, cY(e), 556, cY(e), 'c-y-tick');
  const t = label(543, cY(e) + 6, '10', 'end', 16, 'c-y-tick-label');
  const sup = document.createElementNS(NS, 'tspan');
  sup.setAttribute('class', 'u');
  
  
  sup.textContent = String(e);
  t.appendChild(sup);
  if (e > -2) cMinorFactors.forEach(f => {
    const yy = cY(e - 1 + Math.log10(f));
    tick(552, yy, 556, yy, 'c-y-minor-tick');
  });
});
cXMajor.forEach(p => { tick(cX(p), 439, cX(p), 446, 'c-x-tick'); label(cX(p), 467, p.toFixed(1), 'middle', 16, 'c-x-tick-label'); });
cXMinor.forEach(p => tick(cX(p), 439, cX(p), 443, 'c-x-minor-tick'));

/* ---------- panel d ---------- */
function marker(kind, x, y, color, filled, name) {
  const common = { fill: filled ? color : 'none', stroke: color, 'stroke-width': filled ? 1 : 1.4 };
  const r = 4.4;
  if (kind === 'circle') return make('circle', Object.assign({ cx: x, cy: y, r }, common), name);
  let pts;
  if (kind === 'square') pts = [[x - r, y - r], [x + r, y - r], [x + r, y + r], [x - r, y + r]];
  if (kind === 'triangle') pts = [[x, y - r - 1], [x + r + .6, y + r - .6], [x - r - .6, y + r - .6]];
  if (kind === 'diamond') pts = [[x, y - r - 1], [x + r + 1, y], [x, y + r + 1], [x - r - 1, y]];
  return make('polygon', Object.assign({ points: pts.map(q => q.join(',')).join(' ') }, common), name);
}
function retention(vals, fy, color, kind, filled, name) {
  const pts = vals.map((v, i) => dX(dScans[i]) + ',' + fy(v).toFixed(2)).join(' ');
  make('polyline', { points: pts, fill: 'none', stroke: color, 'stroke-width': 1.7 }, name + '-line');
  vals.forEach((v, i) => marker(kind, dX(dScans[i]), fy(v), color, filled, name + '-point'));
}
make('line', { x1: 581, x2: 1070, y1: dDisk(100), y2: dDisk(100), stroke: '#777', 'stroke-width': 1, 'stroke-dasharray': '1.5 1.5' }, 'disk-reference-line');
make('line', { x1: 581, x2: 1070, y1: dRing(100), y2: dRing(100), stroke: '#777', 'stroke-width': 1, 'stroke-dasharray': '1.5 1.5' }, 'ring-reference-line');
retention(diskCoS2, dDisk, BLUE, 'circle', true, 'disk-cos2');
retention(diskCoSe2, dDisk, MAG, 'square', true, 'disk-cose2');
retention(diskOCoSe2, dDisk, RED, 'triangle', true, 'disk-ocose2');
retention(diskNiSe2, dDisk, GRN, 'diamond', true, 'disk-nise2');
retention(ringCoS2, dRing, BLUE, 'circle', false, 'ring-cos2');
retention(ringCoSe2, dRing, MAG, 'square', false, 'ring-cose2');
retention(ringOCoSe2, dRing, RED, 'triangle', false, 'ring-ocose2');
retention(ringNiSe2, dRing, GRN, 'diamond', false, 'ring-nise2');
frame(581, 577, 490, 216, 'd-frame');
make('line', { x1: 581, x2: 1071, y1: 685, y2: 685, stroke: '#111', 'stroke-width': 2 }, 'd-divider');
[dDisk, dRing].forEach(fy => {
  dYMajor.forEach(r => { tick(573.5, fy(r), 581, fy(r), 'd-y-tick'); label(569, fy(r) + 6, String(r), 'end', 16, 'd-y-tick-label'); });
  dYMinor.forEach(r => tick(577, fy(r), 581, fy(r), 'd-y-minor-tick'));
});
dScanMajor.forEach(s => { tick(dX(s), 793, dX(s), 800, 'd-scan-tick'); label(dX(s), 814, String(s), 'middle', 16, 'd-scan-tick-label'); });
dScanMinor.forEach(s => tick(dX(s), 793, dX(s), 797, 'd-scan-minor-tick'));
dTimeMajor.forEach(h => { tick(dT(h), 577, dT(h), 572.5, 'd-time-tick'); label(dT(h), 566, String(h), 'middle', 16, 'd-time-tick-label'); });
dTimeMinor.forEach(h => tick(dT(h), 577, dT(h), 574.5, 'd-time-minor-tick'));
cleanDownScans.forEach((s, i) => arrowV(dX(s), dRing(cleanDownTips[i]), 1, 'ring-cleaning-arrow'));
cleanUpScans.forEach((s, i) => arrowV(dX(s), dRing(cleanUpTips[i]), -1, 'ring-cleaning-arrow'));
</script>
</body>
</html>
